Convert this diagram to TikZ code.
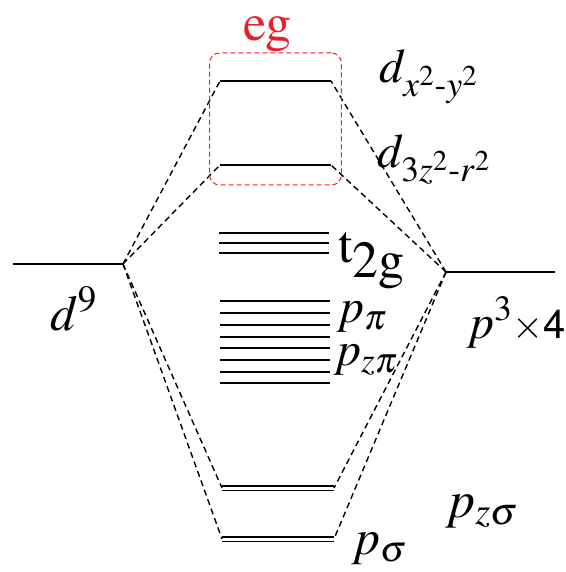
\documentclass[tikz,border=0pt]{standalone}
\usepackage[T1]{fontenc}
\usepackage{mathptmx}
\usepackage{amsmath}
\usetikzlibrary{fit,positioning}
\definecolor{egRed}{HTML}{E8202A}
\tikzset{
  level/.style={line width=1pt, draw=black},
  double level/.style={draw=black, line width=0.7pt, double distance=1.5pt},
  link/.style={line width=0.7pt, draw=black, dash pattern=on 3pt off 2pt},
  eg box/.style={draw=egRed, line width=0.5pt, dash pattern=on 2.5pt off 1.5pt,
    rounded corners=5pt, inner xsep=5.2pt, inner ysep=12pt},
  orb label/.style={anchor=base west, inner sep=0pt,
    font=\fontsize{24}{24}\selectfont}
}
\newcommand{\helv}[1]{{\fontfamily{phv}\selectfont #1}}
\begin{document}
\begin{tikzpicture}[x=0.5pt, y=-0.5pt]
  \useasboundingbox (0,0) rectangle (566,572);
  % atomic levels
  \coordinate (dL) at (13,264);  \coordinate (dR) at (123,264);
  \coordinate (pL) at (446,272); \coordinate (pR) at (555,272);
  % antibonding eg
  \coordinate (egtL) at (220,81);  \coordinate (egtR) at (331,81);
  \coordinate (egbL) at (220,165); \coordinate (egbR) at (331,165);
  % bonding sigma
  \coordinate (zsL) at (222,488); \coordinate (zsR) at (334,488);
  \coordinate (sgL) at (222,539); \coordinate (sgR) at (334,539);

  \draw[level] (dL) -- (dR);
  \draw[level] (pL) -- (pR);
  \draw[level] (egtL) -- (egtR);
  \draw[level] (egbL) -- (egbR);
  \draw[double level] (zsL) -- (zsR);
  \draw[double level] (sgL) -- (sgR);
  \foreach \y in {233,243,253}
    \draw[level] (219,\y) -- (329,\y);
  \foreach \y in {301,313,325,337,348,360,372,383}
    \draw[level] (220,\y) -- (330,\y);

  \draw[link] (dR) -- (egtL); \draw[link] (dR) -- (egbL);
  \draw[link] (dR) -- (zsL);  \draw[link] (dR) -- (sgL);
  \draw[link] (pL) -- (egtR); \draw[link] (pL) -- (egbR);
  \draw[link] (pL) -- (zsR);  \draw[link] (pL) -- (sgR);

  \node[eg box, fit=(egtL)(egbR), yshift=2pt] (egbox) {};
  \node[orb label, text=egRed, font=\fontsize{26}{26}\selectfont]
    (eglbl) at (243,41) {eg};

  \node[orb label] (dxy) at (379,83) {$d_{x^2\text{-}y^2}$};
  \node[orb label] (dzr) at (377,168) {$d_{3z^2\text{-}r^2}$};
  \node[orb label, font=\fontsize{26}{26}\selectfont] (t2g) at (338,262)
    {t\raisebox{-0.3em}{2g}};
  \node[orb label] (ppi) at (336,322) {$p_\pi$};
  \node[orb label] (pzpi) at (333,365) {$p_{z\pi}$};
  \node[orb label, font=\fontsize{25}{25}\selectfont] (d9) at (50,330) {$d^9$};
  \node[orb label] (p34) at (466,338)
    {$p^3$\fontsize{20}{20}\selectfont$\times$\helv{4}};
  \node[orb label, font=\fontsize{26}{26}\selectfont] (pzs) at (445,517)
    {$p_{z\sigma}$};
  \node[orb label, font=\fontsize{25}{25}\selectfont] (psg) at (351,554)
    {$p_\sigma$};
\end{tikzpicture}
\end{document}
